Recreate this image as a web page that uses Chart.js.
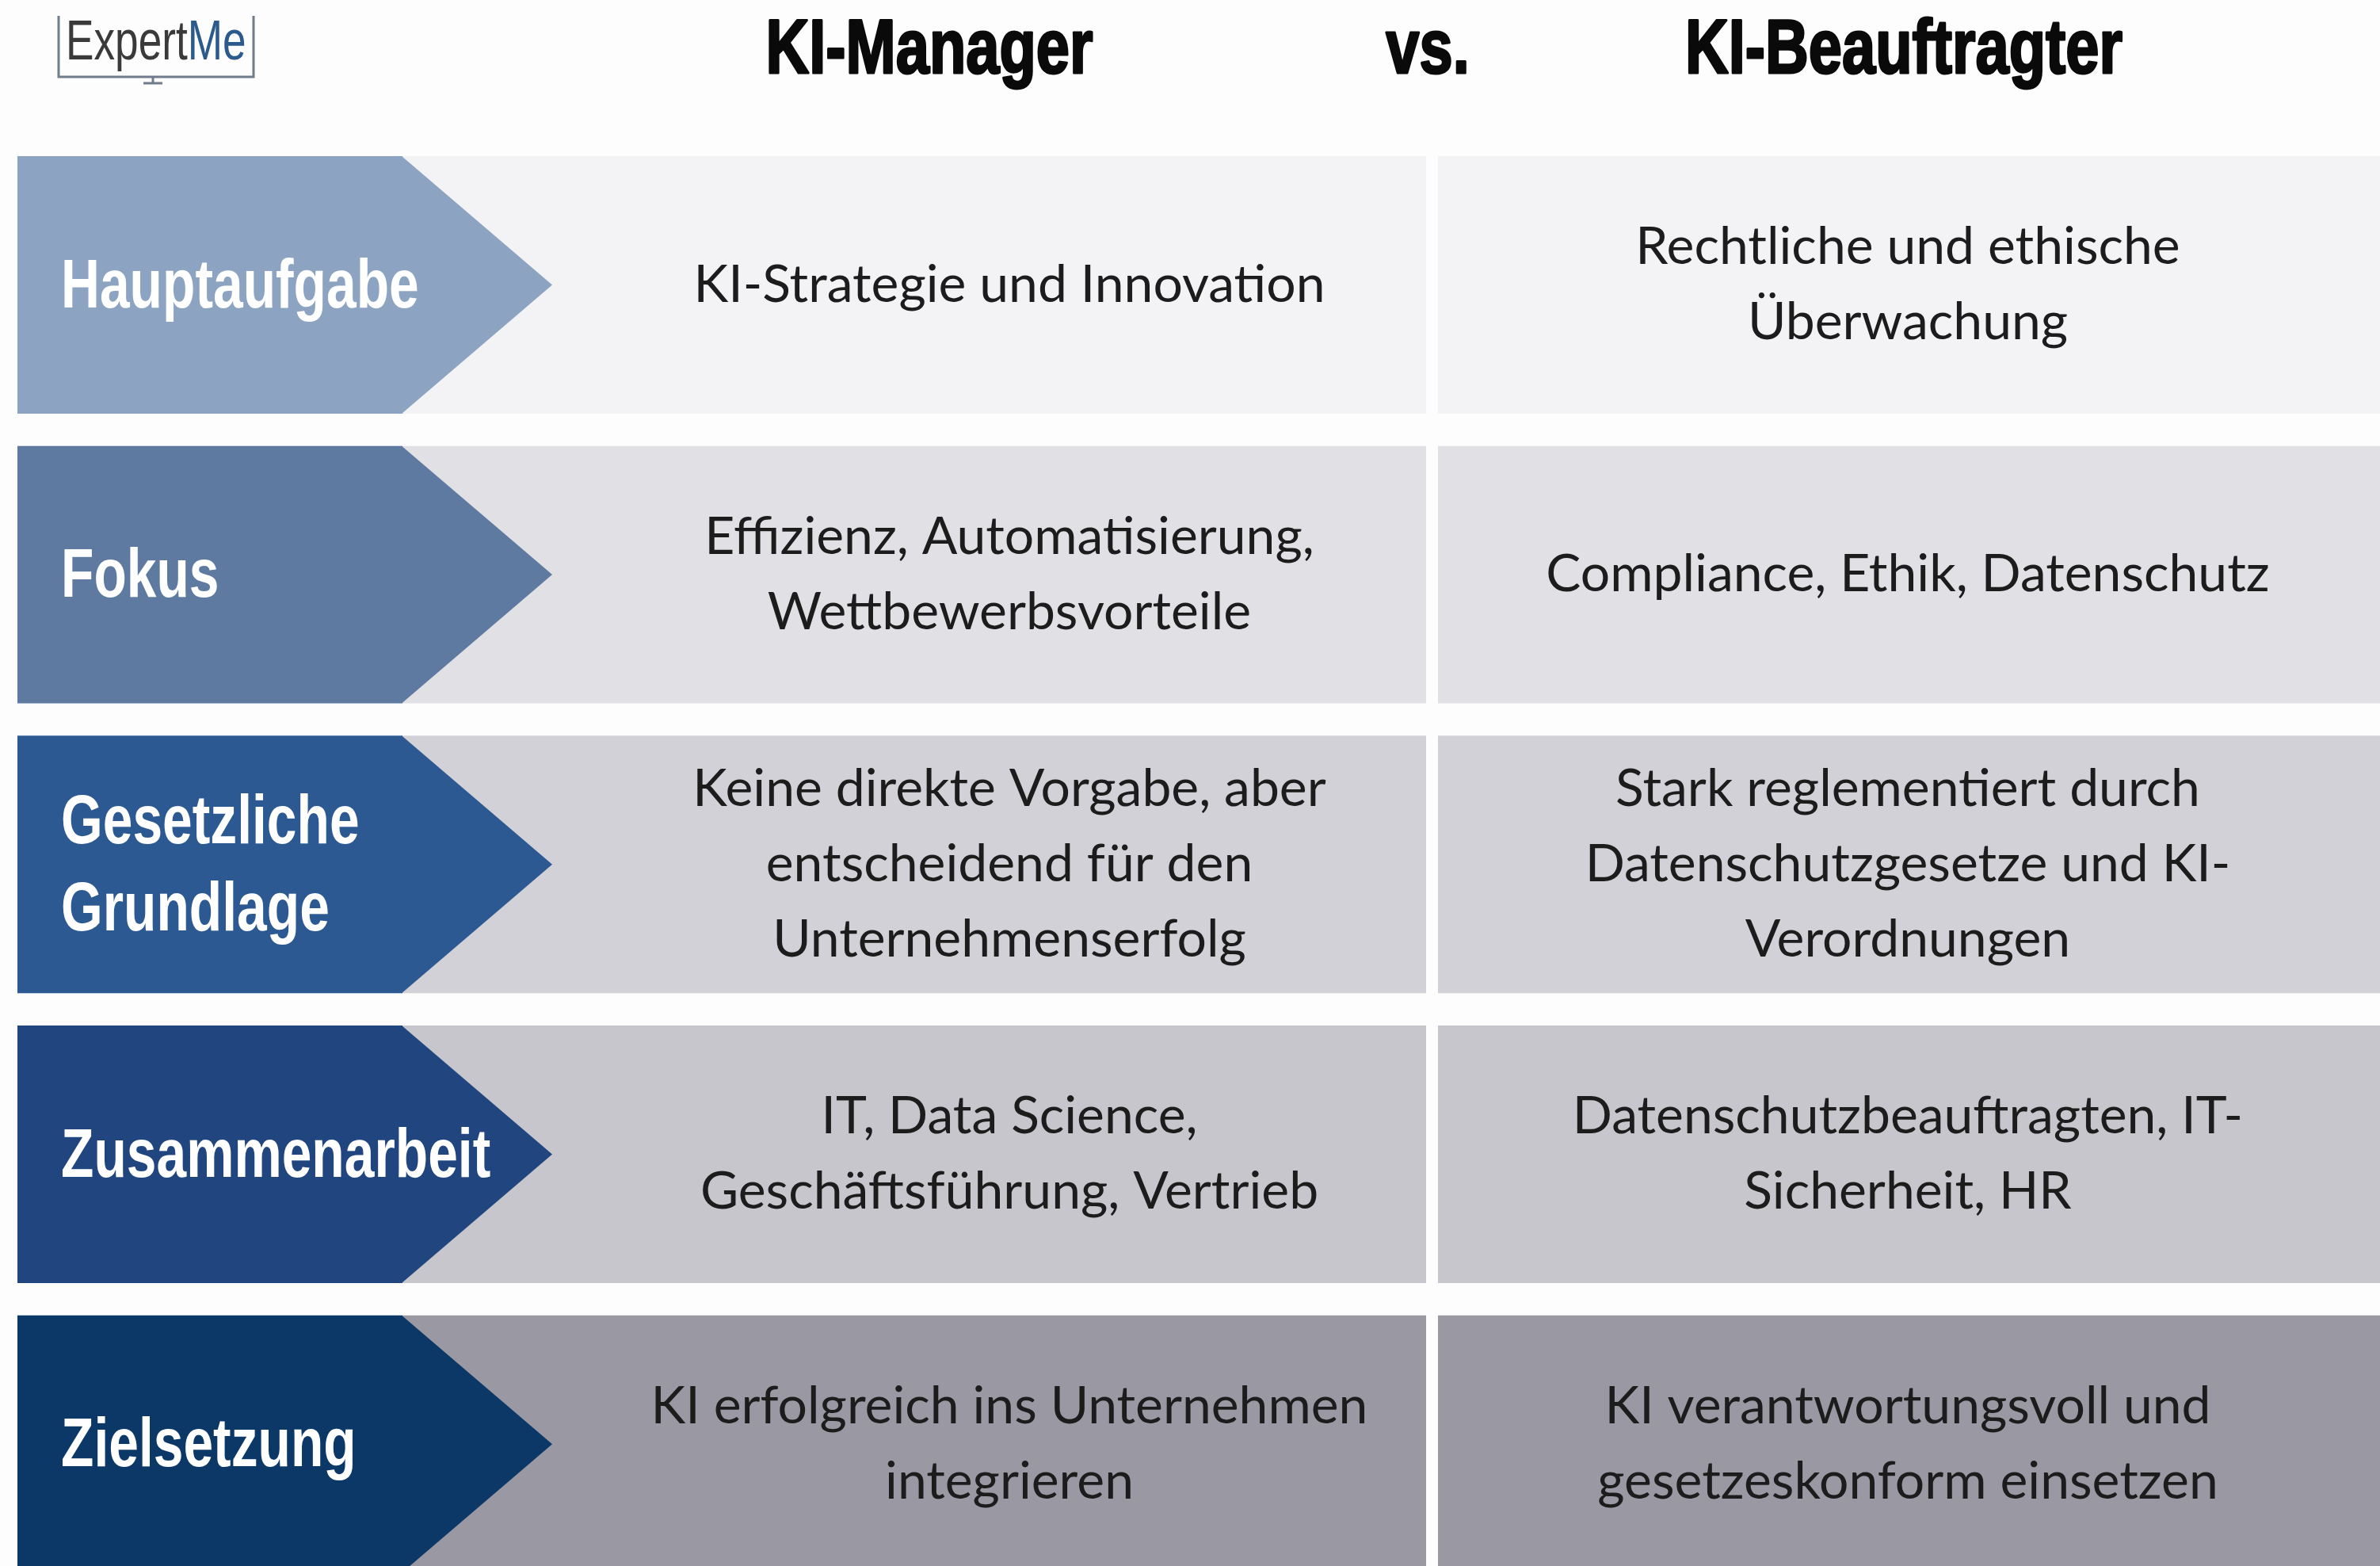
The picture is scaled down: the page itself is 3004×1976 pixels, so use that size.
<!DOCTYPE html>
<html>
<head>
<meta charset="utf-8">
<script src="https://cdn.jsdelivr.net/npm/chart.js@4.4.1/dist/chart.umd.min.js"></script>
<style>
  html, body { margin: 0; padding: 0; background: #fdfdfd; overflow: hidden; }
  .wrap { width: 3004px; height: 1976px; overflow: hidden; }
  canvas { display: block; }
</style>
</head>
<body>
<div class="wrap"><canvas id="vergleichChart" width="3004" height="2005"></canvas></div>
<script>
    // Inhalte der Tabelle
    const columnHeaders = ['KI-Manager', 'vs.', 'KI-Beauftragter'];
    const rowLabels = [
        ['Hauptaufgabe'],
        ['Fokus'],
        ['Gesetzliche', 'Grundlage'],
        ['Zusammenarbeit'],
        ['Zielsetzung']
    ];
    const managerText = [
        ['KI-Strategie und Innovation'],
        ['Effizienz, Automatisierung,', 'Wettbewerbsvorteile'],
        ['Keine direkte Vorgabe, aber', 'entscheidend für den', 'Unternehmenserfolg'],
        ['IT, Data Science,', 'Geschäftsführung, Vertrieb'],
        ['KI erfolgreich ins Unternehmen', 'integrieren']
    ];
    const beauftragterText = [
        ['Rechtliche und ethische', 'Überwachung'],
        ['Compliance, Ethik, Datenschutz'],
        ['Stark reglementiert durch', 'Datenschutzgesetze und KI-', 'Verordnungen'],
        ['Datenschutzbeauftragten, IT-', 'Sicherheit, HR'],
        ['KI verantwortungsvoll und', 'gesetzeskonform einsetzen']
    ];

    // Farben
    const arrowColors = ['#8ca3c1', '#5f7aa0', '#2d5993', '#21467f', '#0b3867'];
    const cellColors = ['#f3f3f5', '#e1e1e5', '#d2d1d7', '#c6c6cc', '#9a99a3'];

    // Layout (x-Achse in Pixel-Einheiten der Breite)
    const SPAN = { label: [22, 508], manager: [508, 1800], beauftragter: [1815, 3004] };
    const ARROW_TIP = 697;
    const TEXT_X = { manager: 1274, beauftragter: 2408 };
    const HEADER_X = [1173, 1802, 2403];

    const SANS = '"Liberation Sans", Arial, sans-serif';
    const BODY = 'Lato, "Open Sans", sans-serif';

    // Text schmal gezeichnet (kein Condensed-Font vorhanden)
    function narrowText(ctx, text, x, y, squeeze, heavy) {
        ctx.save();
        ctx.translate(x, y);
        ctx.scale(squeeze, 1);
        if (heavy) {
            ctx.lineWidth = heavy;
            ctx.lineJoin = 'round';
            ctx.strokeStyle = ctx.fillStyle;
            ctx.strokeText(text, 0, 0);
        }
        ctx.fillText(text, 0, 0);
        ctx.restore();
    }

    function drawLines(ctx, lines, x, y, lineHeight, squeeze) {
        lines.forEach((line, i) => {
            const ly = y + (i - (lines.length - 1) / 2) * lineHeight;
            if (squeeze) narrowText(ctx, line, x, ly, squeeze);
            else ctx.fillText(line, x, ly);
        });
    }

    const tablePlugin = {
        id: 'tablePlugin',
        afterDatasetsDraw(chart) {
            const ctx = chart.ctx;
            const xs = chart.scales.x;
            const tipPx = xs.getPixelForValue(ARROW_TIP);

            ctx.save();
            // Pfeilspitzen
            chart.getDatasetMeta(0).data.forEach((bar, i) => {
                const half = bar.height / 2;
                ctx.fillStyle = arrowColors[i];
                ctx.beginPath();
                ctx.moveTo(bar.x - 1, bar.y - half);
                ctx.lineTo(tipPx, bar.y);
                ctx.lineTo(bar.x - 1, bar.y + half);
                ctx.closePath();
                ctx.fill();
            });

            // Zeilenbeschriftungen
            ctx.fillStyle = '#ffffff';
            ctx.textAlign = 'left';
            ctx.textBaseline = 'middle';
            ctx.font = 'bold 88px ' + SANS;
            chart.getDatasetMeta(0).data.forEach((bar, i) => {
                drawLines(ctx, rowLabels[i], 77, bar.y + 4, 110, 0.77);
            });

            // Zelltexte
            ctx.fillStyle = '#1c1c1c';
            ctx.textAlign = 'center';
            ctx.font = '66px ' + BODY;
            chart.getDatasetMeta(1).data.forEach((bar, i) => {
                drawLines(ctx, managerText[i], xs.getPixelForValue(TEXT_X.manager), bar.y, 95);
            });
            chart.getDatasetMeta(2).data.forEach((bar, i) => {
                drawLines(ctx, beauftragterText[i], xs.getPixelForValue(TEXT_X.beauftragter), bar.y, 95);
            });

            // Spaltenköpfe
            ctx.fillStyle = '#0a0a0a';
            ctx.textBaseline = 'alphabetic';
            ctx.font = 'bold 96px ' + SANS;
            columnHeaders.forEach((h, i) => narrowText(ctx, h, xs.getPixelForValue(HEADER_X[i]), 92, 0.79, 3));

            // Logo
            ctx.strokeStyle = '#6f7c8c';
            ctx.lineWidth = 3;
            ctx.beginPath();
            ctx.moveTo(74, 20);
            ctx.lineTo(74, 97);
            ctx.lineTo(320, 97);
            ctx.lineTo(320, 20);
            ctx.stroke();
            ctx.beginPath();
            ctx.moveTo(193, 97);
            ctx.lineTo(193, 105);
            ctx.moveTo(181, 105);
            ctx.lineTo(205, 105);
            ctx.stroke();
            ctx.textAlign = 'left';
            ctx.font = '70px ' + SANS;
            const squeeze = 0.76;
            const w = ctx.measureText('Expert').width * squeeze;
            ctx.fillStyle = '#3a3a3a';
            narrowText(ctx, 'Expert', 83, 75, squeeze);
            ctx.fillStyle = '#2b5a8d';
            narrowText(ctx, 'Me', 83 + w, 75, squeeze);
            ctx.restore();
        }
    };

    new Chart(document.getElementById('vergleichChart').getContext('2d'), {
        type: 'bar',
        data: {
            labels: rowLabels.map(l => l.join(' ')),
            datasets: [
                { label: 'Kategorie', data: rowLabels.map(() => SPAN.label), backgroundColor: arrowColors },
                { label: columnHeaders[0], data: managerText.map(() => SPAN.manager), backgroundColor: cellColors },
                { label: columnHeaders[2], data: beauftragterText.map(() => SPAN.beauftragter), backgroundColor: cellColors }
            ]
        },
        options: {
            indexAxis: 'y',
            responsive: false,
            animation: false,
            devicePixelRatio: 1,
            layout: { padding: { top: 176.6, bottom: 0, left: 0, right: 0 } },
            datasets: {
                bar: { grouped: false, categoryPercentage: 1, barPercentage: 0.8886, borderWidth: 0, borderSkipped: false }
            },
            scales: {
                x: { type: 'linear', min: 0, max: 3004, display: false },
                y: { display: false }
            },
            plugins: {
                legend: { display: false },
                tooltip: { enabled: false }
            }
        },
        plugins: [tablePlugin]
    });
</script>
</body>
</html>
